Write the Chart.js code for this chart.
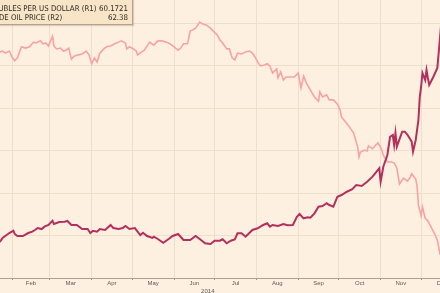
<!DOCTYPE html>
<html>
<head>
<meta charset="utf-8">
<script src="https://cdn.jsdelivr.net/npm/chart.js@4.4.1/dist/chart.umd.min.js"></script>
<style>
    html, body { margin: 0; padding: 0; }
    body {
        width: 440px; height: 293px; overflow: hidden; position: relative;
        background: #fdf0e0;
        font-family: 'DejaVu Sans Condensed', 'Liberation Sans', sans-serif;
    }
    #wrap { position: absolute; left: 0; top: 0; width: 470px; height: 293px; }
    #legend {
        position: absolute; left: -14px; top: -4px; width: 147px;
        box-sizing: border-box;
        padding: 7px 4px 2px 1px;
        background: #f8e4c6;
        border: 1px solid #b3a38d;
        box-shadow: 1px 1px 1px rgba(120, 100, 70, 0.25);
        font-size: 7.8px; line-height: 9px; color: #2d2925;
        white-space: nowrap;
    }
    .row { display: flex; justify-content: space-between; }
    #lOil { margin-left: -4px; }
</style>
</head>
<body>
<div id="wrap"><canvas id="chart" width="470" height="293"></canvas></div>
<div id="legend">
    <div class="row"><span id="lRub"></span><span id="vRub"></span></div>
    <div class="row"><span id="lOil"></span><span id="vOil"></span></div>
</div>

<script>
// ===== DATA (2014) =====
const rubLabel = 'ROUBLES PER US DOLLAR (R1)';
const oilLabel = 'CRUDE OIL PRICE (R2)';
const rubLast = '60.1721';
const oilLast = '62.38';

const rubDates = ['01-23','01-25','01-28','01-30','02-02','02-03','02-05','02-09','02-13','02-16',
    '02-18','02-20','02-23','02-25','02-28','03-03','03-04','03-06','03-08','03-12',
    '03-14','03-17','03-21','03-25','03-29','03-31','04-02','04-05','04-07','04-11',
    '04-15','04-17','04-21','04-24','04-26','04-29','05-03','05-07','05-09','05-12',
    '05-16','05-17','05-20','05-24','05-28','05-31','06-04','06-08','06-13','06-17',
    '06-20','06-24','06-28','07-01','07-05','07-07','07-10','07-13','07-16','07-18',
    '07-21','07-24','07-29','08-02','08-06','08-09','08-11','08-13','08-17','08-21',
    '08-24','08-28','08-31','09-02','09-05','09-08','09-10','09-13','09-16','09-19',
    '09-22','09-24','09-27','09-30','10-03','10-07','10-11','10-14','10-18','10-22',
    '10-26','10-29','10-31','11-01','11-03','11-06','11-08','11-10','11-11','11-12',
    '11-13','11-17','11-19','11-21','11-24','11-25','11-27','11-29','11-30','12-01',
    '12-02','12-04','12-05','12-06','12-07','12-10','12-13','12-14','12-16'];
const rubRate = [34.24,34.71,35.06,35.29,35.56,35.18,34.94,34.94,35.29,35.45,
    35.65,35.88,35.76,36.04,36.24,36.74,36.35,36.47,36.59,36.62,
    36.71,36.24,36.24,35.76,35.76,35.29,35.56,35.45,35.76,35.65,
    36.24,35.88,35.76,35.88,36.12,35.76,35.88,35.06,35.33,34.94,
    34.71,34.86,34.59,34.15,34.59,34.94,35.18,34.47,34.47,34.94,
    34.59,34.08,34.00,34.39,34.39,34.55,34.08,34.39,34.55,35.26,
    35.26,34.86,35.65,35.85,36.24,36.44,36.04,36.24,36.12,36.35,
    36.20,36.24,37.21,37.53,37.02,37.14,37.09,37.61,38.39,38.47,
    38.79,38.59,38.39,39.56,39.76,40.15,40.44,40.94,40.82,41.33,
    41.92,42.51,42.91,41.33,43.09,44.47,46.62,46.82,45.65,47.06,
    45.45,47.21,47.21,46.82,46.04,44.86,46.24,48.59,51.29,52.50,
    54.12,53.29,54.47,53.53,52.71,53.65,54.71,56.47,60.17];

const oilDates = ['01-23','01-25','01-27','01-30','02-01','02-03','02-05','02-08','02-11','02-14',
    '02-17','02-19','02-22','02-24','02-26','02-28','03-03','03-04','03-06','03-09',
    '03-11','03-13','03-15','03-17','03-19','03-22','03-25','03-28','03-30','04-01',
    '04-03','04-05','04-07','04-10','04-12','04-15','04-18','04-21','04-23','04-26',
    '04-27','04-29','05-02','05-04','05-05','05-08','05-10','05-14','05-17','05-20',
    '05-23','05-26','05-29','06-01','06-04','06-06','06-08','06-11','06-13','06-15',
    '06-17','06-20','06-22','06-25','06-28','06-30','07-03','07-05','07-07','07-10',
    '07-12','07-14','07-16','07-18','07-21','07-24','07-27','07-29','07-31','08-02',
    '08-04','08-07','08-09','08-11','08-13','08-16','08-17','08-19','08-21','08-23',
    '08-26','08-29','09-01','09-03','09-05','09-07','09-10','09-13','09-16','09-17',
    '09-19','09-22','09-24','09-27','09-30','10-02','10-03','10-06','10-09','10-12',
    '10-15','10-16','10-17','10-20','10-22','10-23','10-26','10-28','10-30','11-01',
    '11-03','11-06','11-09','11-11','11-13','11-15','11-18','11-21','11-23','11-24',
    '11-27','11-28','11-29','12-01','12-02','12-04','12-06','12-08','12-11','12-13',
    '12-15','12-16'];
const oilPrice = [110.2,110.4,109.9,110.4,109.0,108.1,108.8,111.4,111.1,111.4,
    112.5,112.3,112.8,112.1,112.3,111.6,113.9,111.6,110.9,111.1,
    110.4,110.6,111.1,108.5,109.2,109.5,109.7,110.4,109.5,107.4,
    108.8,107.8,109.9,110.9,111.4,111.6,112.1,112.5,112.8,112.3,
    110.9,111.4,110.9,110.4,109.5,110.2,110.6,112.5,111.8,112.8,
    112.8,112.5,112.1,111.4,110.6,111.1,112.1,112.1,115.1,115.4,
    115.8,117.2,116.8,116.5,115.8,115.1,114.2,113.0,112.3,110.9,
    110.9,108.8,108.3,109.9,109.7,110.2,110.4,109.9,109.0,107.8,
    106.9,107.1,107.4,106.9,105.2,106.2,104.1,105.5,103.6,104.3,
    104.3,104.3,105.2,101.7,104.5,102.9,101.2,99.6,98.6,100.8,
    99.6,100.1,98.9,98.9,97.9,96.5,94.9,93.7,92.5,91.1,
    87.8,85.5,86.6,87.1,86.9,88.1,87.4,88.1,88.8,87.8,
    85.9,84.3,84.3,84.1,82.9,79.1,80.5,79.8,80.8,81.5,
    80.3,78.6,74.2,71.6,73.7,71.1,70.4,69.2,67.4,65.9,
    62.6,62.38];

// ===== AXES =====
const monthNames = ['Feb','Mar','Apr','May','Jun','Jul','Aug','Sep','Oct','Nov','Dec'];
const yearLabel = '2014';
const yearLabelAt = '06-26';
const rubTicks = [30, 35, 40, 45, 50, 55, 60];

// day of year 2014 (1 Jan = 0)
function dayOf(md) {
    const [m, d] = md.split('-').map(Number);
    return (Date.UTC(2014, m - 1, d) - Date.UTC(2014, 0, 1)) / 864e5;
}

const monthStarts = monthNames.map((n, i) => dayOf(String(i + 2).padStart(2, '0') + '-01'));
const monthMids = monthNames.map((n, i) => {
    const next = i + 3 > 12 ? 365 : dayOf(String(i + 3).padStart(2, '0') + '-01');
    return (monthStarts[i] + next) / 2;
});
const yearTick = dayOf(yearLabelAt);
const startSet = new Set(monthStarts);
const xTicks = [...monthStarts, ...monthMids, yearTick].sort((a, b) => a - b);

const rubPts = rubDates.map((d, i) => ({ x: dayOf(d), y: rubRate[i] }));
const oilPts = oilDates.map((d, i) => ({ x: dayOf(d), y: oilPrice[i] }));

// ===== LEGEND =====
document.getElementById('lRub').textContent = rubLabel;
document.getElementById('vRub').textContent = rubLast;
document.getElementById('lOil').textContent = oilLabel;
document.getElementById('vOil').textContent = oilLast;

// ===== CHART =====
const gridCol = '#efdfca';

new Chart(document.getElementById('chart'), {
    type: 'line',
    data: {
        datasets: [{
            label: rubLabel,
            data: rubPts,
            yAxisID: 'yRub',
            borderColor: '#b3305d',
            borderWidth: 2,
            pointRadius: 0,
            tension: 0
        }, {
            label: oilLabel,
            data: oilPts,
            yAxisID: 'yOil',
            borderColor: '#f6a3a2',
            borderWidth: 1.6,
            pointRadius: 0,
            tension: 0
        }]
    },
    options: {
        responsive: false,
        animation: false,
        devicePixelRatio: 1,
        layout: { padding: 0 },
        plugins: { legend: { display: false }, tooltip: { enabled: false } },
        scales: {
            x: {
                type: 'linear',
                min: 22.1,
                max: 370.2,
                afterBuildTicks: s => { s.ticks = xTicks.map(v => ({ value: v })); },
                afterFit: s => { s.height = 15; },
                border: { color: '#a9a196', width: 1 },
                grid: {
                    color: c => (c.tick && startSet.has(c.tick.value)) ? gridCol : 'transparent',
                    tickColor: c => (c.tick && startSet.has(c.tick.value)) ? '#9b9388' : 'transparent',
                    tickLength: 2
                },
                ticks: {
                    autoSkip: false,
                    maxRotation: 0,
                    padding: 0,
                    color: '#5f584f',
                    font: { family: 'Liberation Sans', size: 6, lineHeight: 1.27 },
                    callback: v => {
                        const i = monthMids.indexOf(v);
                        if (i >= 0) return monthNames[i];
                        if (v === yearTick) return ['', yearLabel];
                        return '';
                    }
                }
            },
            yRub: {
                position: 'left',
                min: 30,
                max: 62.706,
                afterBuildTicks: s => { s.ticks = rubTicks.map(v => ({ value: v })); },
                afterFit: s => { s.width = 0; },
                border: { display: false },
                grid: { color: gridCol, drawTicks: false },
                ticks: { display: false }
            },
            yOil: {
                position: 'right',
                display: false,
                min: 57,
                max: 122.41
            }
        }
    }
});
</script>
</body>
</html>
